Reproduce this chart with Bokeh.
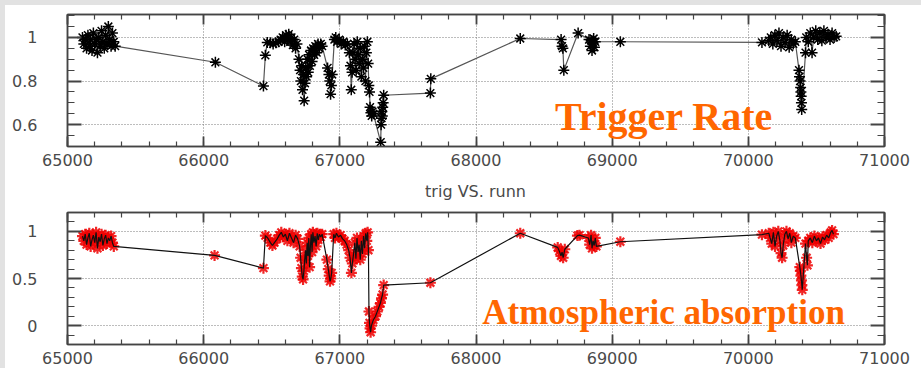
from bokeh.plotting import figure
from bokeh.models import FixedTicker, LinearAxis, Label, Range1d, Spacer, Div
from bokeh.layouts import column, row
from bokeh.embed import file_html
from bokeh.resources import INLINE

# ---------------- data ----------------
x_ticks = [65000, 66000, 67000, 68000, 69000, 70000, 71000]
x_tick_labels = ["65000", "66000", "67000", "68000", "69000", "70000", "71000"]
x_minor = [65000 + 200 * i for i in range(31)]

trig_ticks = [0.6, 0.8, 1.0]
trig_tick_labels = ["0.6", "0.8", "1"]
trig_minor = [0.5, 0.55, 0.6, 0.65, 0.7, 0.75, 0.8, 0.85, 0.9, 0.95, 1.0, 1.05, 1.1]

atm_ticks = [0.0, 0.5, 1.0]
atm_tick_labels = ["0", "0.5", "1"]
atm_minor = [-0.2, -0.1, 0.0, 0.1, 0.2, 0.3, 0.4, 0.5, 0.6, 0.7, 0.8, 0.9, 1.0, 1.1, 1.2]

runs_trig = [
    65110, 65120, 65130, 65140, 65150, 65160, 65170, 65180, 65190, 65200, 65210, 65220, 65230,
    65240, 65250, 65260, 65270, 65280, 65290, 65300, 65310, 65320, 65330, 65340, 65350,
    66086, 66439, 66453, 66467,
    66490, 66510, 66530, 66550, 66565, 66580, 66595, 66605, 66615, 66625, 66635, 66645, 66655,
    66665, 66675, 66685,
    66700, 66708, 66714, 66720, 66726, 66732, 66738, 66744, 66750, 66756, 66762, 66768, 66774,
    66780, 66788, 66796, 66804, 66812, 66820, 66830, 66840, 66850, 66860, 66870,
    66910, 66920, 66926, 66932, 66938, 66944, 66960, 66970, 66980, 66995, 67010, 67025, 67040, 67055,
    67070, 67078, 67084, 67090, 67096, 67105, 67112, 67120, 67128, 67135, 67142, 67150, 67158,
    67165, 67172, 67180, 67188, 67195, 67202, 67208, 67213, 67218, 67222, 67228, 67234, 67240, 67246,
    67300, 67303, 67306, 67309, 67312, 67315, 67318, 67322,
    67665, 67668,
    68325, 68625, 68632, 68638, 68645, 68750, 68830, 68840, 68846, 68852, 68858, 68864, 68870, 68876,
    69060,
    70100, 70150, 70165, 70180, 70195, 70210, 70225, 70240, 70255, 70270, 70285, 70300, 70315, 70330, 70345,
    70372, 70376, 70380, 70384, 70386, 70388, 70390, 70392,
    70420, 70425, 70440, 70455, 70468, 70480, 70495, 70510, 70525, 70540, 70555, 70570, 70585, 70600,
    70615, 70630, 70645,
]
trig = [
    1.00, 0.97, 0.99, 0.95, 1.01, 0.96, 0.99, 0.94, 1.02, 0.97, 0.99, 0.93, 1.00,
    0.96, 1.03, 0.98, 0.95, 1.01, 0.97, 1.05, 0.99, 0.96, 1.02, 0.98, 0.96,
    0.886, 0.777, 0.918, 0.977,
    0.975, 0.97, 0.975, 0.98, 0.99, 1.00, 0.98, 1.01, 0.99, 1.015, 0.98, 1.00, 0.965,
    0.99, 0.95, 0.97,
    0.90, 0.85, 0.80, 0.87, 0.76, 0.83, 0.71, 0.79, 0.86, 0.82, 0.90, 0.84, 0.92,
    0.87, 0.94, 0.89, 0.95, 0.92, 0.96, 0.93, 0.97, 0.95, 0.97, 0.96,
    0.86, 0.83, 0.80, 0.74, 0.78, 0.83, 0.99, 1.00, 0.98, 0.99, 0.97, 0.98, 0.965, 0.97,
    0.93, 0.87, 0.76, 0.84, 0.93, 0.97, 0.90, 0.85, 0.98, 0.92, 0.88, 0.95, 0.82,
    0.90, 0.86, 0.96, 0.80, 0.93, 0.98, 0.88, 0.78, 0.75, 0.68, 0.655, 0.64, 0.66, 0.65,
    0.52, 0.60, 0.63, 0.66, 0.64, 0.68, 0.70, 0.735,
    0.745, 0.81,
    0.995, 0.99, 0.96, 0.95, 0.85, 1.02, 0.99, 0.96, 0.985, 0.94, 0.975, 0.995, 0.955, 0.98,
    0.98,
    0.977, 0.985, 1.00, 0.97, 1.01, 0.985, 1.02, 0.96, 1.00, 0.975, 1.01, 0.955, 0.99, 0.97, 0.98,
    0.85, 0.82, 0.80, 0.77, 0.75, 0.73, 0.70, 0.67,
    0.93, 1.00, 0.98, 1.02, 0.93, 1.00, 1.03, 0.99, 1.02, 0.985, 1.03, 1.00, 1.015, 0.99,
    1.02, 1.00, 1.005,
]

runs_atm = [
    65110, 65120, 65130, 65140, 65150, 65160, 65170, 65180, 65190, 65200, 65210, 65220, 65230,
    65240, 65250, 65260, 65270, 65280, 65290, 65300, 65310, 65320, 65330, 65340,
    66080, 66439, 66453, 66470, 66490, 66505, 66520, 66540, 66555, 66570, 66585, 66600, 66615,
    66630, 66645, 66660, 66675, 66690,
    66705, 66712, 66718, 66724, 66730, 66736, 66742, 66748, 66754, 66760, 66766, 66772, 66778,
    66784, 66790, 66796, 66802, 66810, 66818, 66826, 66834, 66842, 66850, 66860, 66870,
    66905, 66915, 66922, 66928, 66934, 66940, 66955, 66965, 66975, 66990, 67005, 67020, 67035, 67050,
    67065, 67075, 67085, 67092, 67100, 67110, 67118, 67126, 67134, 67142, 67150, 67158, 67166,
    67174, 67182, 67190, 67198, 67204, 67210,
    67214, 67218, 67222, 67226, 67232, 67246, 67262, 67275, 67288, 67298, 67306, 67314, 67322,
    67665,
    68325, 68600, 68612, 68624, 68632, 68640, 68652, 68745, 68760, 68825, 68835, 68845, 68852,
    68860, 68868, 68876, 68884, 69060,
    70100, 70150, 70160, 70172, 70184, 70196, 70208, 70220, 70232, 70240, 70248, 70256, 70268,
    70280, 70292, 70304, 70316, 70330, 70345,
    70378, 70382, 70386, 70390, 70393, 70396,
    70420, 70428, 70434, 70440, 70455, 70470, 70485, 70500, 70515, 70530, 70545, 70560, 70575,
    70590, 70605, 70615, 70625,
]
atm = [
    0.95, 0.90, 0.97, 0.86, 0.93, 0.98, 0.84, 0.91, 0.96, 0.88, 0.99, 0.82, 0.94,
    0.89, 0.97, 0.85, 0.92, 0.96, 0.87, 0.93, 0.90, 0.95, 0.88, 0.84,
    0.745, 0.61, 0.955, 0.93, 0.88, 0.85, 0.88, 0.92, 0.96, 0.99, 0.94, 0.97, 0.90,
    0.98, 0.93, 0.88, 0.96, 0.92,
    0.84, 0.72, 0.61, 0.52, 0.49, 0.58, 0.70, 0.80, 0.66, 0.88, 0.74, 0.93, 0.62,
    0.85, 0.97, 0.78, 0.99, 0.88, 0.95, 0.84, 0.98, 0.91, 0.97, 0.94, 0.97,
    0.70, 0.60, 0.53, 0.47, 0.50, 0.56, 0.97, 0.93, 0.98, 0.94, 0.96, 0.92, 0.90, 0.86,
    0.80, 0.72, 0.56, 0.66, 0.75, 0.88, 0.71, 0.93, 0.78, 0.86, 0.70, 0.90, 0.76,
    0.95, 0.82, 0.98, 0.90, 0.99, 0.80,
    0.15, 0.03, -0.03, -0.07, 0.00, 0.06, 0.10, 0.15, 0.20, 0.24, 0.29, 0.33, 0.43,
    0.455,
    0.98, 0.83, 0.79, 0.74, 0.78, 0.72, 0.81, 0.955, 0.96, 0.93, 0.86, 0.96, 0.82,
    0.90, 0.85, 0.93, 0.84, 0.89,
    0.965, 0.98, 0.93, 0.87, 0.99, 0.84, 0.95, 1.00, 0.90, 0.77, 0.72, 0.85, 0.97,
    1.00, 0.92, 0.98, 0.88, 0.95, 0.93,
    0.62, 0.58, 0.53, 0.48, 0.43, 0.38,
    0.87, 0.72, 0.64, 0.90, 0.93, 0.88, 0.95, 0.90, 0.93, 0.87, 0.94, 0.91, 0.96,
    0.93, 0.99, 1.01, 0.97,
]

title_text = "trig VS. runn"
label_top = "Trigger Rate"
label_bottom = "Atmospheric absorption"

# ---------------- styling helpers ----------------
AX = "#444444"
TXT = "#4a4a4a"
FONT = "DejaVu Sans"
EDGE = "#e2e2e2"


def style_axis(ax, ticks, minor, labels, major_in, minor_in, show, standoff):
    ax.ticker = FixedTicker(ticks=ticks, minor_ticks=minor)
    ax.major_tick_in = major_in
    ax.major_tick_out = 0
    ax.minor_tick_in = minor_in
    ax.minor_tick_out = 0
    ax.axis_line_color = AX
    ax.axis_line_width = 1.5
    ax.major_tick_line_color = AX
    ax.major_tick_line_width = 1.8
    ax.minor_tick_line_color = AX
    ax.minor_tick_line_width = 1.2
    if show:
        ax.major_label_overrides = {t: l for t, l in zip(ticks, labels)}
        ax.major_label_text_font = FONT
        ax.major_label_text_font_size = "16px"
        ax.major_label_text_color = TXT
        ax.major_label_standoff = standoff
    else:
        ax.major_label_overrides = {t: "" for t in ticks}
        ax.major_label_text_font_size = "1px"
        ax.major_label_standoff = 0


def make_panel(height, yr, yticks, yminor, ylabels, border_top, border_bottom):
    p = figure(width=916, height=height, x_range=Range1d(65000, 71000), y_range=Range1d(*yr),
               output_backend="svg", toolbar_location=None,
               min_border_left=62, min_border_right=37,
               min_border_top=border_top, min_border_bottom=border_bottom)
    p.outline_line_color = AX
    p.outline_line_width = 1.5
    style_axis(p.xaxis[0], x_ticks, x_minor, x_tick_labels, 10, 5, True, 7)
    style_axis(p.yaxis[0], yticks, yminor, ylabels, 14, 7, True, 30)
    top = LinearAxis()
    style_axis(top, x_ticks, x_minor, x_tick_labels, 10, 5, False, 0)
    p.add_layout(top, "above")
    right = LinearAxis()
    style_axis(right, yticks, yminor, ylabels, 14, 7, False, 0)
    p.add_layout(right, "right")
    for g in (p.xgrid[0], p.ygrid[0]):
        g.grid_line_color = "#7a7a7a"
        g.grid_line_dash = "1 2"
        g.grid_line_width = 1
    p.background_fill_color = "white"
    p.border_fill_color = "white"
    return p


# ---------------- top panel ----------------
p1 = make_panel(175, (0.5, 1.105), trig_ticks, trig_minor, trig_tick_labels, 9, 34)
p1.line(runs_trig, trig, line_color="#555555", line_width=1.2)
p1.scatter(runs_trig, trig, marker="asterisk", size=11, line_color="black", line_width=1.5)
p1.add_layout(Label(x=68580, y=0.636, text=label_top, text_font="Liberation Serif",
                    text_font_style="bold", text_font_size="40px", text_color="#ff6600",
                    text_align="left", text_baseline="alphabetic"))

# ---------------- title between the panels ----------------
title_div = Div(
    text=("<div style='width:891px;margin:0 0 0 25px;padding:0;text-align:center;"
          "font-family:DejaVu Sans;font-size:16px;line-height:24px;color:%s'>%s</div>" % (TXT, title_text)),
    width=916, height=24, margin=0)

# ---------------- bottom panel ----------------
p2 = make_panel(164, (-0.2, 1.2), atm_ticks, atm_minor, atm_tick_labels, 8, 24)
p2.scatter(runs_atm, atm, marker="asterisk", size=11, line_color="#ee0000", line_width=2.2, line_alpha=0.85)
p2.line(runs_atm, atm, line_color="#111111", line_width=1.2)
p2.add_layout(Label(x=68046, y=0.138, text=label_bottom, text_font="Liberation Serif",
                    text_font_style="bold", text_font_size="35px", text_color="#ff6600",
                    text_align="left", text_baseline="alphabetic"))

left_edge = Spacer(width=5, height=368, margin=0, styles={"background-color": EDGE})
top_edge = Spacer(width=916, height=5, margin=0, styles={"background-color": EDGE})
layout = row(left_edge, column(top_edge, p1, title_div, p2, spacing=0), spacing=0)
open("out.html", "w").write(file_html(layout, INLINE))
